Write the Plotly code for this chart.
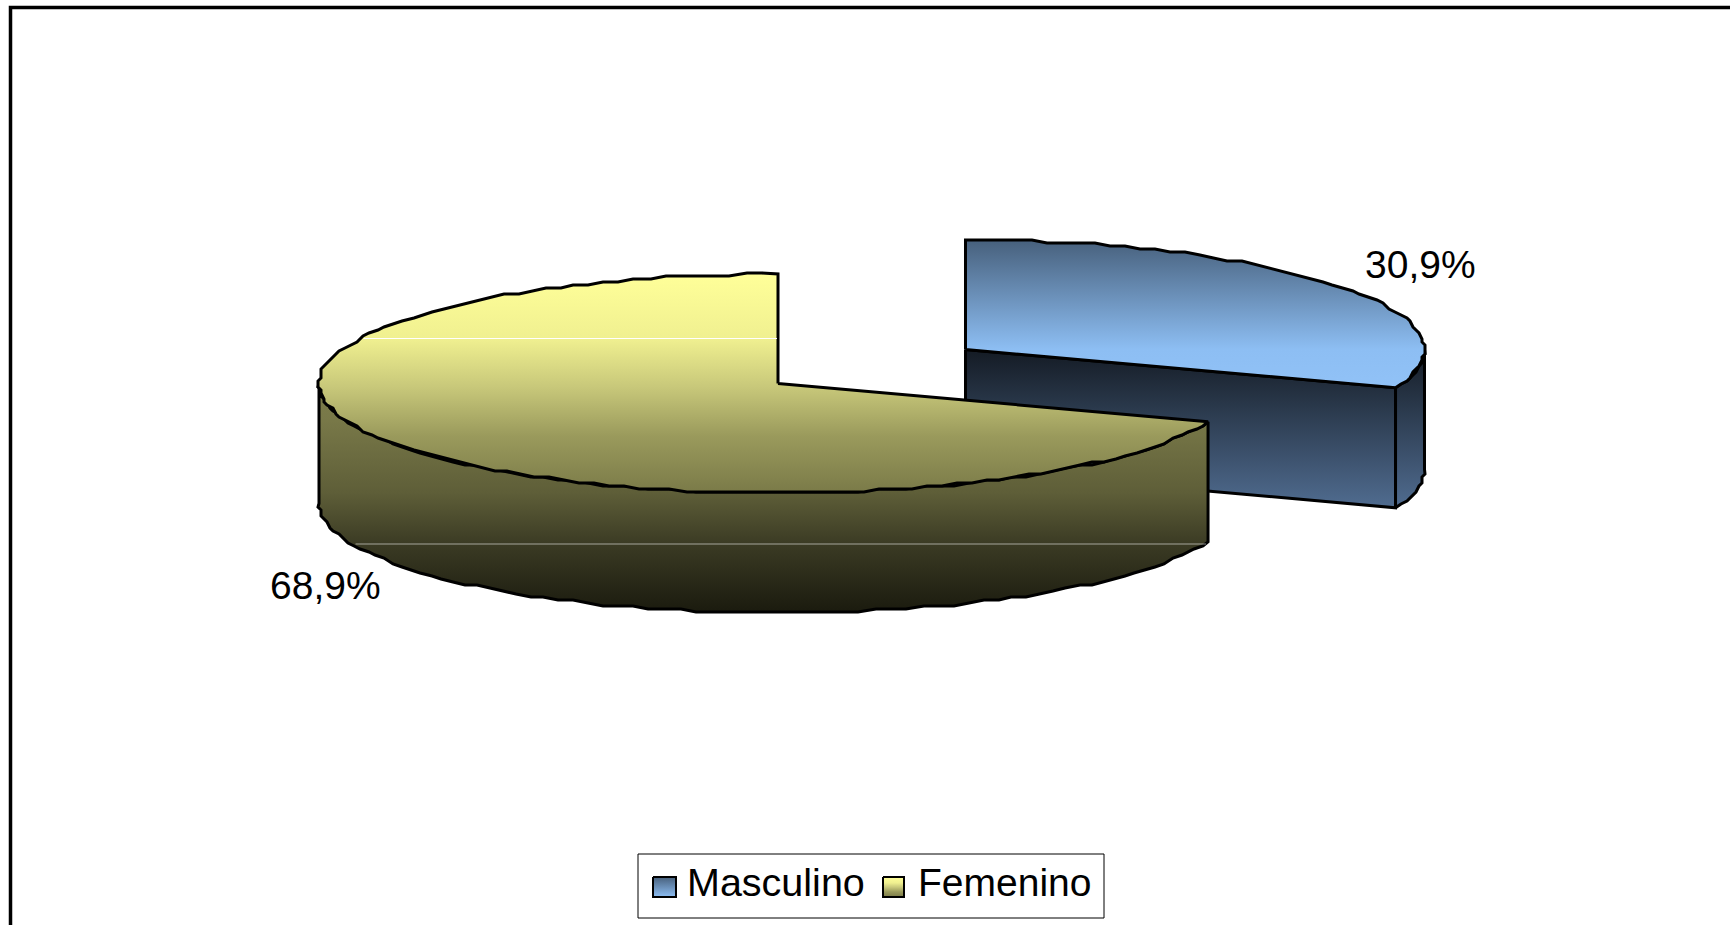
import numpy as np
import plotly.graph_objects as go

# data
categories = ["Masculino", "Femenino"]
values = [30.9, 68.9]

# projection of the tilted pie, in page pixels
RX, RY, DEPTH = 459, 109.5, 120
CENTERS = {"Masculino": (965.5, 349.5), "Femenino": (778, 383.5)}
STEP = 3  # the source outline is a coarse stair-stepped polygon

# gradient stops: (fraction, colour)
M_TOP = [[0, "#47607c"], [0.74, "#8dbef3"], [1, "#91c2f7"]]
M_WALL = [[0, "#141b24"], [1, "#506c90"]]
M_SWATCH = [[0, "#47607c"], [1, "#8dbef3"]]
F_TOP = [[0, "#ffff99"], [0.295, "#f0f090"], [0.515, "#c8c87a"], [0.74, "#9a9a5c"], [1, "#7a7a48"]]
F_WALL = [[0, "#7c7c4a"], [0.134, "#787848"], [0.458, "#5e5e38"], [0.687, "#3b3b24"], [1, "#1a1a0e"]]


def arc(center, start, stop):
    """Points on the slice rim, angles clockwise from 12 o'clock."""
    t = np.radians(np.linspace(start, stop, max(int(abs(stop - start) / 2), 2)))
    x = center[0] + RX * np.sin(t)
    y = center[1] - RY * np.cos(t)
    keep_x = np.round(x / STEP) * STEP
    keep_y = np.round(y / STEP) * STEP
    keep_x[0], keep_y[0], keep_x[-1], keep_y[-1] = x[0], y[0], x[-1], y[-1]
    return keep_x, keep_y


def add_poly(fig, x, y, colorscale, top, bottom, width=3):
    fig.add_trace(go.Scatter(
        x=list(x) + [x[0]], y=list(y) + [y[0]],
        mode="lines", fill="toself",
        line=dict(color="black", width=width),
        fillgradient=dict(type="vertical", start=top, stop=bottom, colorscale=colorscale),
        showlegend=False, hoverinfo="skip",
    ))


def add_wall(fig, center, start, stop, colorscale, top, bottom):
    x, y = arc(center, start, stop)
    add_poly(fig, np.r_[x, x[::-1]], np.r_[y, y[::-1] + DEPTH], colorscale, top, bottom)


fig = go.Figure()

# the source's perspective pulls the boundary about a degree towards 3 o'clock
boundary = 360 * values[0] / sum(values) - 1
m_c = CENTERS["Masculino"]
f_c = CENTERS["Femenino"]

# Masculino: cut face, outer wall, top
tip_x, tip_y = arc(m_c, boundary, boundary + 1)
add_poly(fig, [m_c[0], tip_x[0], tip_x[0], m_c[0]],
         [m_c[1], tip_y[0], tip_y[0] + DEPTH, m_c[1] + DEPTH],
         M_WALL, m_c[1], tip_y[0] + DEPTH)
add_wall(fig, m_c, 90, boundary, M_WALL, m_c[1], tip_y[0] + DEPTH)
x, y = arc(m_c, 0, boundary)
add_poly(fig, np.r_[m_c[0], x], np.r_[m_c[1], y], M_TOP, m_c[1] - RY, tip_y[0])

# Femenino: outer wall, top
add_wall(fig, f_c, boundary, 270, F_WALL, f_c[1] + 8, f_c[1] + RY + DEPTH)
x, y = arc(f_c, boundary, 360)
add_poly(fig, np.r_[f_c[0], x], np.r_[f_c[1], y], F_TOP, f_c[1] - RY, f_c[1] + RY)

# thin light seams of the source gradients
seam_top = f_c[1] - 45
seam_side = f_c[1] + RY + 51
half_top = RX * np.sqrt(1 - ((seam_top - f_c[1]) / RY) ** 2)
half_side = RX * np.sqrt(1 - ((seam_side - f_c[1] - DEPTH) / RY) ** 2)
fig.add_trace(go.Scatter(x=[f_c[0] - half_top + 4, f_c[0] - 1], y=[seam_top, seam_top], mode="lines",
                         line=dict(color="white", width=1), showlegend=False, hoverinfo="skip"))
fig.add_trace(go.Scatter(x=[f_c[0] - half_side + 4, f_c[0] + 428], y=[seam_side, seam_side], mode="lines",
                         line=dict(color="rgba(255,255,255,0.55)", width=1), showlegend=False, hoverinfo="skip"))

# labels
labels = [f"{v:.1f}".replace(".", ",") + "%" for v in values]
fig.add_annotation(x=1420, y=264, text=labels[0], showarrow=False)
fig.add_annotation(x=325, y=585, text=labels[1], showarrow=False)

# outer frame runs off the right and bottom of the page
fig.add_shape(type="rect", x0=10.5, y0=7.5, x1=1760, y1=960,
              line=dict(color="black", width=3.5), layer="below")

# legend, drawn by hand because the built-in fill swatch is only a thin strip
fig.add_shape(type="rect", x0=638, y0=854, x1=1104, y1=918,
              line=dict(color="black", width=1), fillcolor="white", layer="below")
add_poly(fig, [653, 676, 676, 653], [877, 877, 897, 897], M_SWATCH, 877, 897, width=2)
add_poly(fig, [883, 904, 904, 883], [877, 877, 897, 897], F_TOP, 877, 897, width=2)
for label, left, size in zip(categories, [685, 916], [39.5, 39]):
    fig.add_annotation(x=left, y=882, text=label, showarrow=False, xanchor="left",
                       font=dict(size=size))

fig.update_layout(
    width=1730, height=925,
    margin=dict(l=0, r=0, t=0, b=0),
    paper_bgcolor="white", plot_bgcolor="white",
    font=dict(family="Liberation Sans, Arial, sans-serif", size=39, color="black"),
    xaxis=dict(range=[0, 1730], visible=False),
    yaxis=dict(range=[925, 0], visible=False),
    showlegend=False,
)

fig.write_html("out.html", config={"displayModeBar": False},
               post_script="document.body.style.margin='0';document.body.style.overflow='hidden';")
